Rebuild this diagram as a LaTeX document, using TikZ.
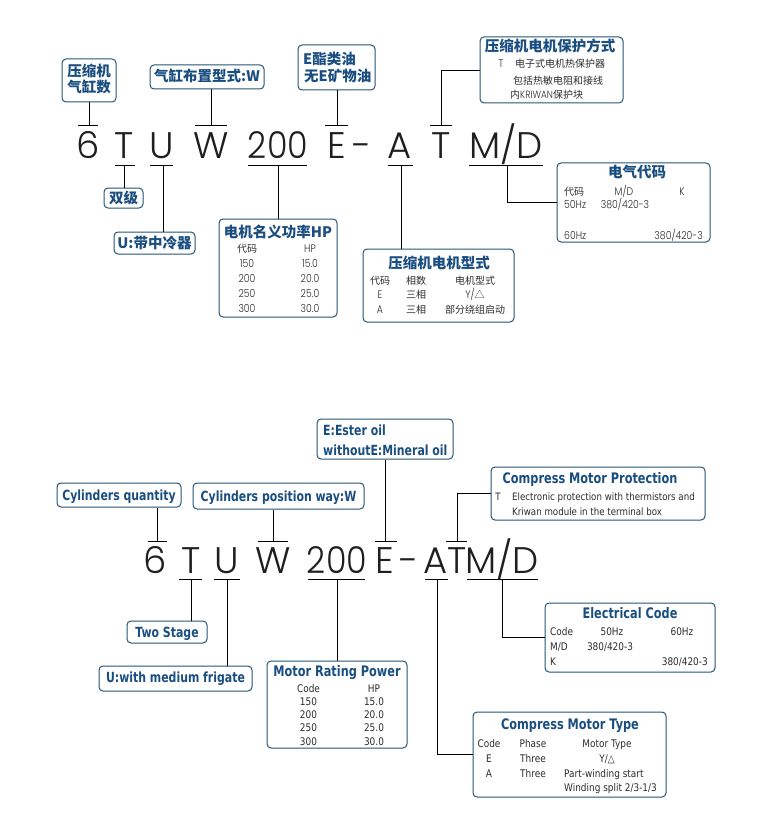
\documentclass[tikz,border=0pt]{standalone}
\usepackage{fontspec}
\newfontfamily\cjk{Noto Sans CJK SC}
\newfontfamily\gothic{Poppins Light}
\newfontfamily\gothicN[FakeStretch=0.9]{Poppins Light}
\newfontfamily\gothicS[FakeStretch=0.85]{Poppins Light}
\newfontfamily\enT[FakeStretch=0.78]{DejaVu Sans}
\newfontfamily\enB[FakeStretch=0.85]{DejaVu Sans}
\definecolor{boxc}{RGB}{38,84,116}
\definecolor{titlec}{RGB}{26,78,128}
\definecolor{bodyc}{RGB}{45,45,45}
\newcommand\mybox[5]{\node[box, minimum width={#4-#2}, minimum height={#5-#3}] (#1) at ({(#2+#4)/2},{(#3+#5)/2}) {};}
\tikzset{
  box/.style={draw=boxc, line width=1pt, rounded corners=4pt, fill=white, inner sep=0pt},
  conn/.style={line width=0.8pt, draw=black},
  big/.style={anchor=base, inner sep=0pt, text=black!88, font=\gothic\fontsize{37}{37}\selectfont},
  bigN/.style={anchor=base, inner sep=0pt, text=black!88, font=\gothicN\fontsize{37}{37}\selectfont},
  tzh/.style={anchor=base, inner sep=0pt, text=titlec, font=\cjk\bfseries\fontsize{14.5}{16}\selectfont},
  tzs/.style={anchor=base, inner sep=0pt, text=bodyc, font=\cjk\fontsize{10}{12}\selectfont},
  tgs/.style={anchor=base, inner sep=0pt, text=bodyc, font=\gothicS\fontsize{11}{12}\selectfont},
  ten/.style={anchor=base, inner sep=0pt, text=titlec, font=\enT\bfseries\fontsize{14}{16}\selectfont},
  tenh/.style={anchor=base, inner sep=0pt, text=titlec, font=\enT\bfseries\fontsize{14.5}{16}\selectfont},
  ens/.style={anchor=base, inner sep=0pt, text=bodyc, font=\enB\fontsize{10.5}{12}\selectfont},
  enp/.style={anchor=base, inner sep=0pt, text=bodyc, font=\enB\fontsize{10.2}{12}\selectfont},
}
\begin{document}
\begin{tikzpicture}[x=1pt,y=-1pt]
\useasboundingbox (0,0) rectangle (769,829);

%% ================= TOP (Chinese) =================
\node[big] (a6)  at (88,159)  {6};
\node[big] (aT)  at (124,159) {T};
\node[big] (aU)  at (162,159) {U};
\node[big] (aW)  at (211,159) {W};
\node[bigN] (a200) at (278,159) {200};
\node[big] (aE)  at (337,159) {E};
\node[big] (ah)  at (362,159) {-};
\node[big] (aA)  at (400,159) {A};
\node[big] (aT2) at (441,159) {T};
\node[big] (aMD) at (506,159) {M/D};

\mybox{bCyl}{62}{59}{116}{102}
\mybox{bPos}{150}{65}{264}{89}
\mybox{bOil}{298}{45}{375}{90}
\mybox{bProt}{480}{37}{623}{103}
\mybox{bTwo}{104}{188}{143}{208}
\mybox{bU}{114}{232}{195}{254}
\mybox{bHP}{219}{219}{337}{317}
\mybox{bMT}{363}{249}{514}{322}
\mybox{bEC}{557}{163}{710}{242}

\coordinate (o6) at (89,125);
\coordinate (oW) at (211,125);
\coordinate (oE) at (337,125);
\coordinate (oT2) at (441,125);
\coordinate (uT) at (124,165);
\coordinate (uU) at (163,165);
\coordinate (u200) at (278,165);
\coordinate (uA) at (401,165);
\coordinate (uMD) at (507,165);

\draw[conn] (78,125) -- (98,125);
\draw[conn] (195,125) -- (227,125);
\draw[conn] (325,125) -- (348,125);
\draw[conn] (430,125) -- (452,125);
\draw[conn] (115,165) -- (135,165);
\draw[conn] (150,165) -- (173,165);
\draw[conn] (248,165) -- (307,165);
\draw[conn] (388,165) -- (413,165);
\draw[conn] (469,165) -- (543,165);

\draw[conn] (bCyl.south -| o6) -- (o6);
\draw[conn] (bPos.south -| oW) -- (oW);
\draw[conn] (bOil.south -| oE) -- (oE);
\draw[conn] (oT2) |- (bProt.west);
\draw[conn] (uT) -- (uT |- bTwo.north);
\draw[conn] (uU) -- (uU |- bU.north);
\draw[conn] (u200) -- (u200 |- bHP.north);
\draw[conn] (uA) -- (uA |- bMT.north);
\draw[conn] (uMD) |- (bEC.west);

\node[tzh] (tCyl1) at (89,77) {压缩机};
\node[tzh] (tCyl2) at (89,93) {气缸数};
\node[tzh] (tPos) at (207,82) {气缸布置型式:W};
\node[tzh, anchor=base west] (tOil1) at (303,64.5) {E酯类油};
\node[tzh, anchor=base west] (tOil2) at (304,82) {无E矿物油};

\node[tzh] (tProt) at (550,52) {压缩机电机保护方式};
\node[tgs] (tProtT) at (501,67.5) {T};
\node[tzs, anchor=base west] (tProt1) at (515,67.5) {电子式电机热保护器};
\node[tzs, anchor=base west] (tProt2) at (513,84.5) {包括热敏电阻和接线};
\node[tzs, anchor=base west] (tProt3) at (510,98.5) {内\gothicS\fontsize{10.5}{12}\selectfont KRIWAN\cjk\fontsize{10}{12}\selectfont 保护块};

\node[tzh] (tTwo) at (123.5,203) {双级};
\node[tzh] (tU) at (154.5,248) {U:带中冷器};

\node[tzh] (tHP) at (278,237) {电机名义功率HP};
\node[tzs] at (247,252.5) {代码};
\node[tgs] at (310,252.5) {HP};
\node[tgs] at (247,267.5) {150};
\node[tgs] at (310,267.5) {15.0};
\node[tgs] at (247,282.5) {200};
\node[tgs] at (310,282.5) {20.0};
\node[tgs] at (247,297.5) {250};
\node[tgs] at (310,297.5) {25.0};
\node[tgs] at (247,312.5) {300};
\node[tgs] at (310,312.5) {30.0};

\node[tzh] (tMT) at (439,268) {压缩机电机型式};
\node[tzs] at (380,284) {代码};
\node[tzs] at (416,284) {相数};
\node[tzs] at (475,284) {电机型式};
\node[tgs] at (380,298) {E};
\node[tzs] at (416,298) {三相};
\node[tzs] at (475,298) {\gothicS\fontsize{11}{12}\selectfont Y/\cjk\fontsize{10}{12}\selectfont △};
\node[tgs] at (380,313) {A};
\node[tzs] at (416,313) {三相};
\node[tzs] at (475,313) {部分绕组启动};

\node[tzh] (tEC) at (637,178) {电气代码};
\node[tzs, anchor=base west] at (564,195) {代码};
\node[tgs] at (624,195) {M/D};
\node[tgs] at (682,195) {K};
\node[tgs, anchor=base west] at (564,208) {50Hz};
\node[tgs] at (625,208) {380/420-3};
\node[tgs, anchor=base west] at (564,239) {60Hz};
\node[tgs, anchor=base east] at (703,239) {380/420-3};

%% ================= BOTTOM (English) =================
\node[big] (b6)  at (155,573) {6};
\node[big] (bT)  at (191,573) {T};
\node[big] (bU)  at (227,573) {U};
\node[big] (bW)  at (273,573) {W};
\node[bigN] (b200) at (337,573) {200};
\node[big] (bE)  at (385,573) {E};
\node[big] (bh)  at (409,573) {-};
\node[big] (bA)  at (436,573) {A};
\node[big] (bT2) at (457,573) {T};
\node[big] (bMD) at (502,573) {M/D};

\mybox{cCyl}{57}{483}{181}{507}
\mybox{cPos}{193}{483}{364}{509}
\mybox{cOil}{317}{419}{453}{459}
\mybox{cProt}{491}{467}{705}{520}
\mybox{cTwo}{127}{621}{207}{643}
\mybox{cU}{99}{666}{252}{691}
\mybox{cHP}{267}{661}{407}{748}
\mybox{cEC}{545}{603}{715}{672}
\mybox{cMT}{473}{712}{666}{797}

\coordinate (p6) at (157,541);
\coordinate (pW) at (273,541);
\coordinate (pE) at (385,541);
\coordinate (pT2) at (457,541);
\coordinate (qT) at (191,579);
\coordinate (qU) at (227,579);
\coordinate (q200) at (337,579);
\coordinate (qA) at (437,579);
\coordinate (qMD) at (502,579);

\draw[conn] (148,541) -- (167,541);
\draw[conn] (258,541) -- (288,541);
\draw[conn] (375,541) -- (397,541);
\draw[conn] (446,541) -- (467,541);
\draw[conn] (179,579) -- (202,579);
\draw[conn] (214,579) -- (240,579);
\draw[conn] (308,579) -- (365,579);
\draw[conn] (425,579) -- (448,579);
\draw[conn] (467,579) -- (538,579);

\draw[conn] (cCyl.south -| p6) -- (p6);
\draw[conn] (cPos.south -| pW) -- (pW);
\draw[conn] (cOil.south -| pE) -- (pE);
\draw[conn] (pT2) |- (cProt.west);
\draw[conn] (qT) -- (qT |- cTwo.north);
\draw[conn] (qU) -- (qU |- cU.north);
\draw[conn] (q200) -- (q200 |- cHP.north);
\draw[conn] (qA) |- (cMT.west);
\draw[conn] (qMD) |- (cEC.west);

\node[ten] (sCyl) at (119,500) {Cylinders quantity};
\node[ten] (sPos) at (278.5,501) {Cylinders position way:W};
\node[ten, anchor=base west] (sOil1) at (323,435) {E:Ester oil};
\node[ten, anchor=base west] (sOil2) at (323,455) {withoutE:Mineral oil};

\node[tenh] (sProt) at (590,483) {Compress Motor Protection};
\node[enp] at (498,500.5) {T};
\node[enp, anchor=base west] at (512,500.5) {Electronic protection with thermistors and};
\node[enp, anchor=base west] at (512,515) {Kriwan module in the terminal box};

\node[ten] (sTwo) at (167,637) {Two Stage};
\node[ten] (sU) at (175.5,682) {U:with medium frigate};

\node[tenh] (sHP) at (337,676) {Motor Rating Power};
\node[ens] at (308.5,692) {Code};
\node[ens] at (374,692) {HP};
\node[ens] at (308.5,705) {150};
\node[ens] at (374,705) {15.0};
\node[ens] at (308.5,718) {200};
\node[ens] at (374,718) {20.0};
\node[ens] at (308.5,731) {250};
\node[ens] at (374,731) {25.0};
\node[ens] at (308.5,745) {300};
\node[ens] at (374,745) {30.0};

\node[tenh] (sEC) at (630,618) {Electrical Code};
\node[ens, anchor=base west] at (550,635) {Code};
\node[ens] at (612,635) {50Hz};
\node[ens] at (682,635) {60Hz};
\node[ens, anchor=base west] at (550,650) {M/D};
\node[ens] at (610,650) {380/420-3};
\node[ens, anchor=base west] at (550,665) {K};
\node[ens, anchor=base east] at (708,665) {380/420-3};

\node[tenh] (sMT) at (570,729) {Compress Motor Type};
\node[ens] at (489,747) {Code};
\node[ens] at (533,747) {Phase};
\node[ens] at (607,747) {Motor Type};
\node[ens] at (489,762) {E};
\node[ens] at (533,762) {Three};
\node[ens] at (607,762) {Y/△};
\node[ens] at (489,777) {A};
\node[ens] at (533,777) {Three};
\node[ens, anchor=base west] at (564,777) {Part-winding start};
\node[ens, anchor=base west] at (564,791) {Winding split 2/3-1/3};
\end{tikzpicture}
\end{document}
